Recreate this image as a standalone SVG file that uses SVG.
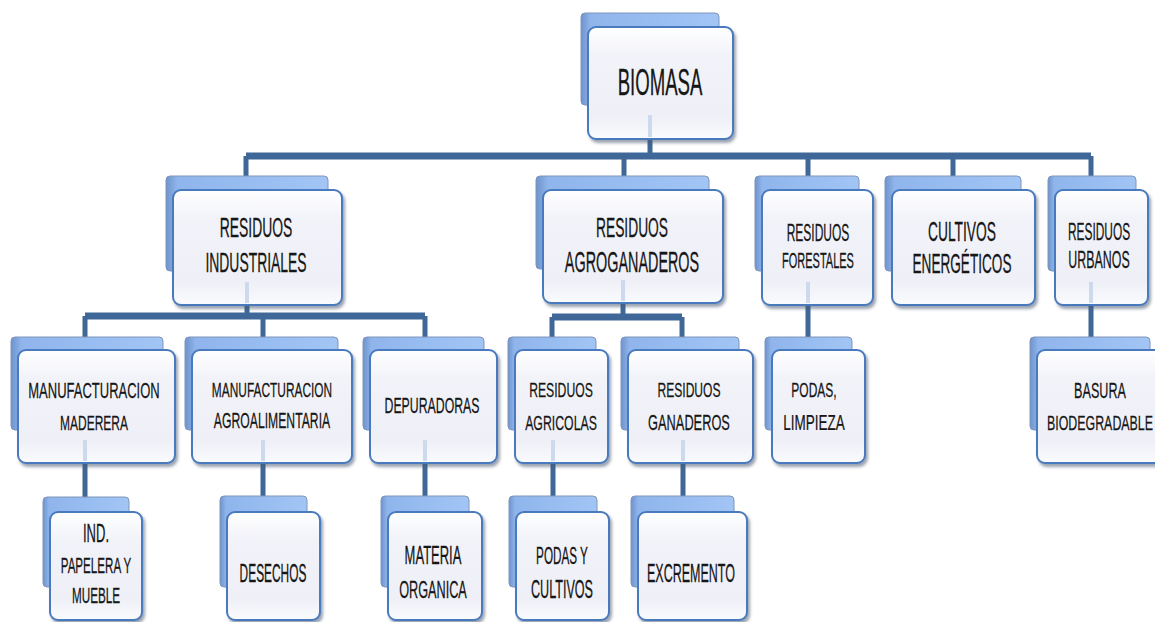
<svg xmlns="http://www.w3.org/2000/svg" width="1155" height="622" viewBox="0 0 1155 622">
<style>
.bk{fill:url(#gBack);stroke:#7f95ba;stroke-width:1}
.fr{fill:url(#gFront);stroke:#4a7abd;stroke-width:2;filter:url(#sh)}
.t{font-family:"Liberation Sans",Arial,sans-serif;fill:#161616;stroke:#161616;stroke-width:0.15;text-anchor:middle}
.c{stroke:#3f6898;fill:none;stroke-width:5}
.cb{stroke-width:7}
.g{stroke:#cdd9ec;fill:none;stroke-width:4}
</style>
<defs>
<linearGradient id="gBack" x1="0" y1="0" x2="1" y2="0">
<stop offset="0" stop-color="#6f93cc"/>
<stop offset="0.07" stop-color="#8fb5ec"/>
<stop offset="1" stop-color="#a2c5f5"/>
</linearGradient>
<linearGradient id="gFront" x1="0" y1="0" x2="0" y2="1">
<stop offset="0" stop-color="#ffffff"/>
<stop offset="0.25" stop-color="#f2f3f9"/>
<stop offset="0.8" stop-color="#eff0f7"/>
<stop offset="1" stop-color="#fafbfd"/>
</linearGradient>
<filter id="sh" x="-10%" y="-10%" width="125%" height="125%">
<feDropShadow dx="2" dy="3" stdDeviation="1.5" flood-color="#4a5a70" flood-opacity="0.55"/>
</filter>
</defs>

<g id="connectors">
<path class="c" d="M650 139V156"/>
<path class="c cb" d="M246 156H1091"/>
<path class="c" d="M246 156V176M624 156V176M808 156V176M953 156V176M1091 156V176"/>
<path class="c" d="M247 305V316"/>
<path class="c cb" d="M85 316H425"/>
<path class="c" d="M85 316V337M263 316V337M425 316V337"/>
<path class="c" d="M623 303V317"/>
<path class="c cb" d="M552 317H682"/>
<path class="c" d="M552 317V337M682 317V337"/>
<path class="c" d="M808 305V337M1091 305V337"/>
<path class="c" d="M85 463V497M263 463V496M425 463V496M553 463V496M683 463V496"/>
</g>

<g id="n-biomasa">
<rect class="bk" x="581" y="13" width="138" height="92" rx="4"/>
<rect class="fr" x="588" y="27" width="145" height="112" rx="8"/>
<text class="t" font-size="18.6" transform="translate(660 95) scale(1 2)">BIOMASA</text>
</g>

<g id="n-industriales">
<rect class="bk" x="166" y="176" width="162" height="95" rx="4"/>
<rect class="fr" x="173" y="190" width="169" height="115" rx="8"/>
<text class="t" font-size="13.9" transform="translate(256 237) scale(1 2)">RESIDUOS</text>
<text class="t" font-size="13.9" transform="translate(256 272) scale(1 2)">INDUSTRIALES</text>
</g>

<g id="n-agroganaderos">
<rect class="bk" x="536" y="176" width="173" height="93" rx="4"/>
<rect class="fr" x="543" y="190" width="180" height="113" rx="8"/>
<text class="t" font-size="13.8" transform="translate(632 237) scale(1 2)">RESIDUOS</text>
<text class="t" font-size="14.4" transform="translate(632 272) scale(1 2)">AGROGANADEROS</text>
</g>

<g id="n-forestales">
<rect class="bk" x="755" y="176" width="104" height="95" rx="4"/>
<rect class="fr" x="762" y="190" width="111" height="115" rx="8"/>
<text class="t" font-size="12" transform="translate(818 241) scale(1 1.95)">RESIDUOS</text>
<text class="t" font-size="11" transform="translate(818 268) scale(1 1.95)">FORESTALES</text>
</g>

<g id="n-cultivos">
<rect class="bk" x="885" y="176" width="136" height="95" rx="4"/>
<rect class="fr" x="892" y="190" width="143" height="115" rx="8"/>
<text class="t" font-size="13.8" transform="translate(962 241) scale(1 2.05)">CULTIVOS</text>
<text class="t" font-size="13.6" transform="translate(962 273) scale(1 2.05)">ENERGÉTICOS</text>
</g>

<g id="n-urbanos">
<rect class="bk" x="1048" y="176" width="88" height="95" rx="4"/>
<rect class="fr" x="1055" y="190" width="93" height="115" rx="8"/>
<text class="t" font-size="11.9" transform="translate(1099 240) scale(1 1.95)">RESIDUOS</text>
<text class="t" font-size="12.4" transform="translate(1099 268) scale(1 1.95)">URBANOS</text>
</g>

<g id="n-maderera">
<rect class="bk" x="11" y="337" width="152" height="93" rx="4"/>
<rect class="fr" x="18" y="350" width="157" height="113" rx="8"/>
<text class="t" font-size="13" transform="translate(94 398) scale(1 1.7)">MANUFACTURACION</text>
<text class="t" font-size="12" transform="translate(94 430) scale(1 1.7)">MADERERA</text>
</g>

<g id="n-agroalimentaria">
<rect class="bk" x="185" y="337" width="153" height="93" rx="4"/>
<rect class="fr" x="192" y="350" width="160" height="113" rx="8"/>
<text class="t" font-size="11.9" transform="translate(272 397) scale(1 1.75)">MANUFACTURACION</text>
<text class="t" font-size="12.2" transform="translate(272 428) scale(1 1.75)">AGROALIMENTARIA</text>
</g>

<g id="n-depuradoras">
<rect class="bk" x="363" y="337" width="121" height="93" rx="4"/>
<rect class="fr" x="370" y="350" width="127" height="113" rx="8"/>
<text class="t" font-size="12.3" transform="translate(432 413) scale(1 1.8)">DEPURADORAS</text>
</g>

<g id="n-agricolas">
<rect class="bk" x="508" y="337" width="88" height="93" rx="4"/>
<rect class="fr" x="515" y="350" width="93" height="113" rx="8"/>
<text class="t" font-size="12.2" transform="translate(561 397) scale(1 1.7)">RESIDUOS</text>
<text class="t" font-size="12.3" transform="translate(561 430) scale(1 1.7)">AGRICOLAS</text>
</g>

<g id="n-ganaderos">
<rect class="bk" x="621" y="337" width="118" height="93" rx="4"/>
<rect class="fr" x="628" y="350" width="125" height="113" rx="8"/>
<text class="t" font-size="12.1" transform="translate(689 397) scale(1 1.7)">RESIDUOS</text>
<text class="t" font-size="12.8" transform="translate(689 430) scale(1 1.7)">GANADEROS</text>
</g>

<g id="n-podas-limpieza">
<rect class="bk" x="765" y="337" width="87" height="93" rx="4"/>
<rect class="fr" x="772" y="350" width="93" height="113" rx="8"/>
<text class="t" font-size="12" transform="translate(814 397) scale(1 1.75)">PODAS,</text>
<text class="t" font-size="13.5" transform="translate(814 430) scale(1 1.6)">LIMPIEZA</text>
</g>

<g id="n-basura">
<rect class="bk" x="1030" y="337" width="120" height="93" rx="4"/>
<rect class="fr" x="1037" y="350" width="130" height="113" rx="8"/>
<text class="t" font-size="12.6" transform="translate(1100 398) scale(1 1.7)">BASURA</text>
<text class="t" font-size="12.4" transform="translate(1100 430) scale(1 1.7)">BIODEGRADABLE</text>
</g>

<g id="n-papelera">
<rect class="bk" x="43" y="497" width="86" height="90" rx="4"/>
<rect class="fr" x="50" y="512" width="92" height="108" rx="8"/>
<text class="t" font-size="13" transform="translate(96 542) scale(1 1.95)">IND.</text>
<text class="t" font-size="11.6" transform="translate(96 573) scale(1 1.95)">PAPELERA Y</text>
<text class="t" font-size="11.7" transform="translate(96 603) scale(1 1.95)">MUEBLE</text>
</g>

<g id="n-desechos">
<rect class="bk" x="220" y="496" width="87" height="91" rx="4"/>
<rect class="fr" x="227" y="512" width="93" height="108" rx="8"/>
<text class="t" font-size="11.9" transform="translate(273 582) scale(1 2.2)">DESECHOS</text>
</g>

<g id="n-materia">
<rect class="bk" x="381" y="496" width="88" height="91" rx="4"/>
<rect class="fr" x="388" y="512" width="94" height="108" rx="8"/>
<text class="t" font-size="13" transform="translate(433 564) scale(1 1.95)">MATERIA</text>
<text class="t" font-size="12.7" transform="translate(433 598) scale(1 1.95)">ORGANICA</text>
</g>

<g id="n-podas-cultivos">
<rect class="bk" x="509" y="496" width="88" height="91" rx="4"/>
<rect class="fr" x="516" y="512" width="93" height="108" rx="8"/>
<text class="t" font-size="11.7" transform="translate(562 564) scale(1 2)">PODAS Y</text>
<text class="t" font-size="12.6" transform="translate(562 598) scale(1 2)">CULTIVOS</text>
</g>

<g id="n-excremento">
<rect class="bk" x="631" y="496" width="103" height="91" rx="4"/>
<rect class="fr" x="638" y="512" width="109" height="108" rx="8"/>
<text class="t" font-size="12.5" transform="translate(691 582) scale(1 2.1)">EXCREMENTO</text>
</g>

<g id="stem-traces">
<path class="g" d="M650 115V137M247 282V303M623 280V301M808 282V303M1091 282V303M85 440V461M263 440V461M425 440V461M553 440V461M683 440V461"/>
</g>
</svg>
